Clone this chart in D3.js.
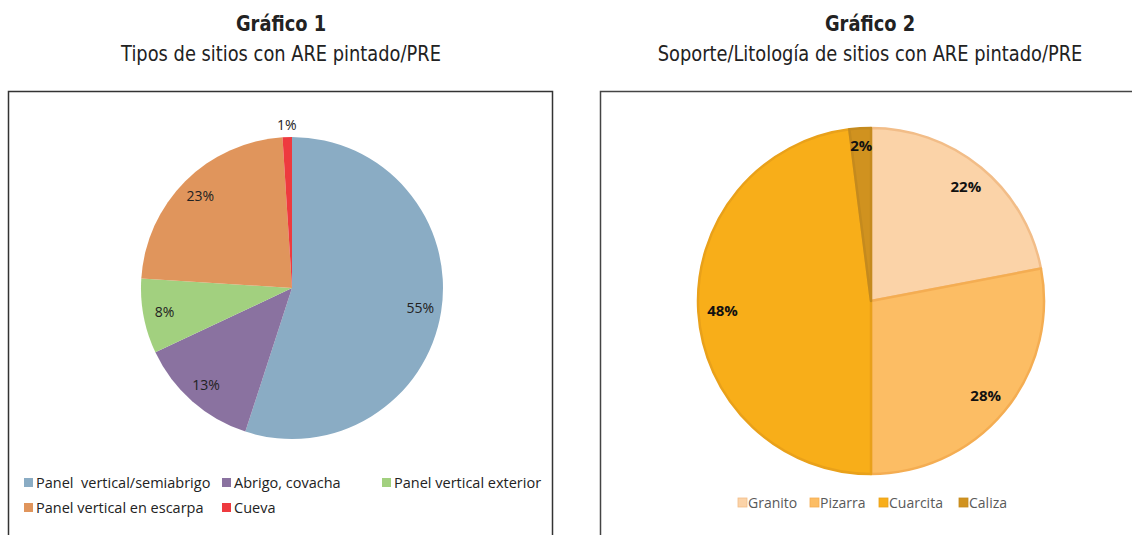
<!DOCTYPE html>
<html>
<head>
<meta charset="utf-8">
<script src="https://cdn.jsdelivr.net/npm/d3@7/dist/d3.min.js"></script>
<style>
  body { margin: 0; background: #fff; }
  svg { display: block; }
</style>
</head>
<body>
<svg id="chart" width="1132" height="535"></svg>
<script>
// chart 1 data
var tipos = ["Panel  vertical/semiabrigo", "Abrigo, covacha", "Panel vertical exterior", "Panel vertical en escarpa", "Cueva"];
var tiposPct = [55, 13, 8, 23, 1];
var tiposColors = ["#8aacc4", "#8a72a0", "#a2d07f", "#e0955c", "#ee3a3f"];

// chart 2 data
var soportes = ["Granito", "Pizarra", "Cuarcita", "Caliza"];
var soportesPct = [22, 28, 48, 2];
var soportesColors = ["#fbd3a8", "#fcbd64", "#f8ae19", "#d0921f"];
var soportesStroke = ["#f2bd88", "#f4ad52", "#e9a11a", "#c48a1e"];

var svg = d3.select("#chart");
var titleFont = "'DejaVu Sans', sans-serif";
var labelFont = "'Open Sans', 'DejaVu Sans', sans-serif";

// condensed look for the titles: squeeze horizontally
function title(x, t1, t2) {
  var g = svg.append("g").attr("transform", "translate(" + x + ",0) scale(0.85,1)");
  g.append("text")
    .attr("x", 0).attr("y", 31)
    .attr("text-anchor", "middle")
    .style("font-family", titleFont)
    .style("font-weight", "bold")
    .style("font-size", "21px")
    .style("fill", "#222")
    .text(t1);
  g.append("text")
    .attr("x", 0).attr("y", 61)
    .attr("text-anchor", "middle")
    .style("font-family", titleFont)
    .style("font-size", "21px")
    .style("fill", "#222")
    .text(t2);
}

title(281, "Gráfico 1", "Tipos de sitios con ARE pintado/PRE");
title(870, "Gráfico 2", "Soporte/Litología de sitios con ARE pintado/PRE");

// frames
svg.append("rect")
  .attr("x", 8.5).attr("y", 91.5).attr("width", 544).attr("height", 460)
  .attr("fill", "none").attr("stroke", "#333").attr("stroke-width", 1.5);
svg.append("rect")
  .attr("x", 600.5).attr("y", 91.5).attr("width", 560).attr("height", 460)
  .attr("fill", "none").attr("stroke", "#444").attr("stroke-width", 1.5);

var pie = d3.pie().sort(null).value(function (d) { return d; });

// ---- chart 1
var g1 = svg.append("g").attr("transform", "translate(292,288)");
var r1 = 151;
var arcs1 = pie(tiposPct);
var arc1 = d3.arc().innerRadius(0).outerRadius(r1);
var lab1 = d3.arc().innerRadius(r1 * 0.86).outerRadius(r1 * 0.86);
var lab1Out = d3.arc().innerRadius(r1 + 12).outerRadius(r1 + 12);

g1.selectAll("path").data(arcs1).enter().append("path")
  .attr("d", arc1)
  .attr("fill", function (d, i) { return tiposColors[i]; });

g1.selectAll("text").data(arcs1).enter().append("text")
  .attr("transform", function (d) {
    var c = d.data < 3 ? lab1Out.centroid(d) : lab1.centroid(d);
    return "translate(" + c + ")";
  })
  .attr("text-anchor", "middle")
  .attr("dy", "0.35em")
  .style("font-family", labelFont)
  .style("font-size", "14px")
  .style("fill", "#222")
  .text(function (d) { return d.data + "%"; });

// legend 1
var leg1Pos = [[24, 483], [222, 483], [382, 483], [24, 508], [222, 508]];
var leg1 = svg.append("g").selectAll("g").data(tipos).enter().append("g")
  .attr("transform", function (d, i) { return "translate(" + leg1Pos[i] + ")"; });
leg1.append("rect")
  .attr("x", 0).attr("y", -5).attr("width", 9).attr("height", 9)
  .attr("fill", function (d, i) { return tiposColors[i]; });
leg1.append("text")
  .attr("x", 12).attr("dy", "0.35em")
  .style("font-family", labelFont)
  .style("font-size", "14.5px")
  .style("fill", "#222")
  .style("white-space", "pre")
  .text(function (d) { return d; });

// ---- chart 2
var g2 = svg.append("g").attr("transform", "translate(871,301)");
var r2 = 173;
var arcs2 = pie(soportesPct);
var arc2 = d3.arc().innerRadius(0).outerRadius(r2);
var lab2 = d3.arc().innerRadius(r2 * 0.86).outerRadius(r2 * 0.86);
var lab2Small = d3.arc().innerRadius(r2 * 0.9).outerRadius(r2 * 0.9);

g2.selectAll("path").data(arcs2).enter().append("path")
  .attr("d", arc2)
  .attr("fill", function (d, i) { return soportesColors[i]; })
  .attr("stroke", function (d, i) { return soportesStroke[i]; })
  .attr("stroke-width", 2.5)
  .attr("stroke-linejoin", "round");

g2.selectAll("text").data(arcs2).enter().append("text")
  .attr("transform", function (d) {
    var c = d.data < 5 ? lab2Small.centroid(d) : lab2.centroid(d);
    return "translate(" + c + ")";
  })
  .attr("text-anchor", "middle")
  .attr("dy", "0.35em")
  .style("font-family", labelFont)
  .style("font-weight", "bold")
  .style("font-size", "15px")
  .style("fill", "#111")
  .text(function (d) { return d.data + "%"; });

// legend 2
var leg2X = [738, 810, 879, 959];
var leg2 = svg.append("g").selectAll("g").data(soportes).enter().append("g")
  .attr("transform", function (d, i) { return "translate(" + leg2X[i] + ",503)"; });
leg2.append("rect")
  .attr("x", 0).attr("y", -5).attr("width", 9).attr("height", 9)
  .attr("fill", function (d, i) { return soportesColors[i]; })
  .attr("stroke", function (d, i) { return soportesStroke[i]; })
  .attr("stroke-width", 0.8);
leg2.append("text")
  .attr("x", 10).attr("dy", "0.35em")
  .style("font-family", labelFont)
  .style("font-size", "14px")
  .style("fill", "#595959")
  .text(function (d) { return d; });
</script>
</body>
</html>
